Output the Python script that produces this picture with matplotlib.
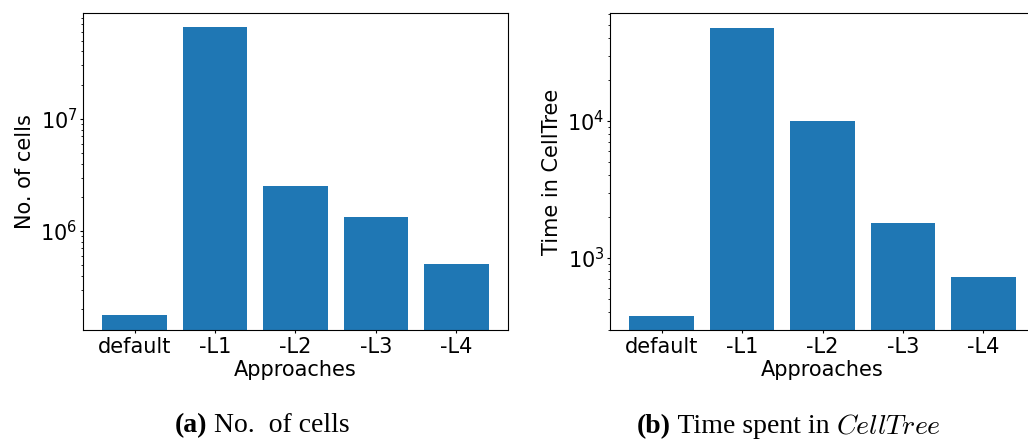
import matplotlib
matplotlib.use("Agg")
import matplotlib.pyplot as plt
from matplotlib.offsetbox import TextArea, HPacker, AnchoredOffsetbox

approaches = ["default", "-L1", "-L2", "-L3", "-L4"]
num_cells = [1.78e5, 6.6e7, 2.52e6, 1.33e6, 5.07e5]
celltree_time = [378, 47700, 10000, 1800, 727]

plt.rcParams["font.size"] = 15
plt.rcParams["xtick.major.size"] = 2.5
plt.rcParams["ytick.major.size"] = 2.5
plt.rcParams["ytick.minor.size"] = 1.5
plt.rcParams["xtick.major.pad"] = 2.5
plt.rcParams["ytick.major.pad"] = 1.5

fig = plt.figure(figsize=(10.28, 4.41), dpi=100)
ax1 = fig.add_axes([83 / 1028, 1 - 330 / 441, 425 / 1028, 317 / 441])
ax2 = fig.add_axes([610 / 1028, 1 - 330 / 441, 425 / 1028, 317 / 441])

for ax, vals, ylabel in [(ax1, num_cells, "No. of cells"),
                         (ax2, celltree_time, "Time in CellTree")]:
    ax.bar(approaches, vals, color="#1f77b4", width=0.8)
    ax.set_yscale("log")
    ax.set_ylabel(ylabel)
    ax.set_xlabel("Approaches", labelpad=2)

ax1.set_ylim(1.31e5, 8.8e7)
ax2.set_ylim(298, 61400)


def caption(parts, x, y):
    # parts: list of (text, props) placed on one baseline
    boxes = [TextArea(t, textprops=p) for t, p in parts]
    pack = HPacker(children=boxes, align="baseline", pad=0, sep=0)
    anchored = AnchoredOffsetbox(loc="center", child=pack, frameon=False,
                                 pad=0, borderpad=0, bbox_to_anchor=(x, y),
                                 bbox_transform=fig.transFigure)
    fig.add_artist(anchored)


serif = dict(family="Liberation Serif", size=20)
caption([("(a)", dict(serif, weight="bold")),
         (" No.  of cells", serif)], 0.255, 0.036)
caption([("(b)", dict(serif, weight="bold")),
         (" Time spent in ", serif),
         ("$CellTree$", dict(size=20, math_fontfamily="cm"))], 0.7675, 0.036)

fig.savefig("out.png", dpi=100)
